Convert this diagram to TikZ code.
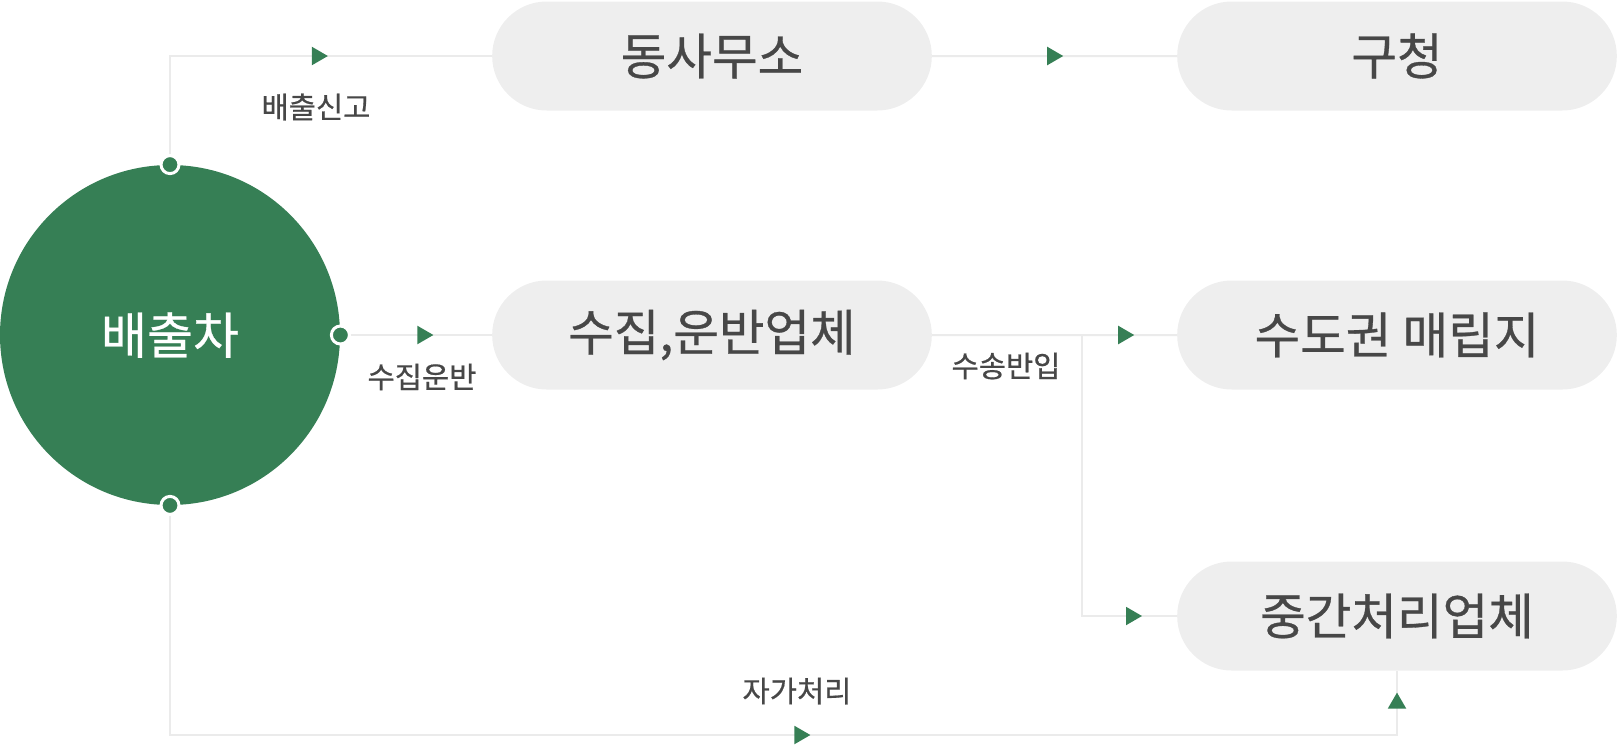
\documentclass[tikz,border=0pt]{standalone}
\usepackage{fontspec}
\setmainfont{Noto Sans CJK KR}
\newfontfamily\medfont[FakeBold=0.6]{Noto Sans CJK KR}
\usetikzlibrary{shapes.misc, arrows.meta, decorations.markings}

\definecolor{accent}{HTML}{367F55}
\definecolor{pillgray}{HTML}{EEEEEE}
\definecolor{linegray}{HTML}{EBEBEB}
\definecolor{textgray}{HTML}{474747}

\begin{document}
\begin{tikzpicture}[x=0.5pt, y=-0.5pt,
    tri/.tip={Triangle[length=8pt, width=9pt, color=accent]},
    pill/.style={rounded rectangle, fill=pillgray, text=textgray,
        minimum width=226.5pt, minimum height=54.5pt,
        font=\medfont\fontsize{24.8}{28}\selectfont},
    lbl/.style={text=textgray, inner sep=0pt, font=\medfont\fontsize{14.8}{17}\selectfont},
    dot/.style={circle, fill=accent, draw=white, line width=1.5pt,
        minimum size=9pt, inner sep=0pt},
    link/.style={draw=linegray, line width=1pt},
    tipat/.style={postaction={decorate, decoration={markings,
        mark=at position #1 with {\arrow{tri}}}}}]

    \useasboundingbox (0,0) rectangle (1617,745);

    \node[circle, fill=accent, text=white, minimum size=170pt, inner sep=0pt,
        font=\medfont\fontsize{25}{28}\selectfont] (baechul) at (170,335)
        {배출차};

    \node[pill] (dongsa) at (712,56)
        {동사무소};

    \node[pill] (gucheong) at (1397,56)
        {구청};

    \node[pill] (sujip) at (712,335)
        {수집,운반업체};

    \node[pill] (maerip) at (1397,335)
        {수도권 매립지};

    \node[pill] (junggan) at (1397,616)
        {중간처리업체};

    \node[dot] (topdot) at (baechul.north) {};
    \node[dot] (middot) at (baechul.east) {};
    \node[dot] (botdot) at (baechul.south) {};

    \coordinate (split) at (1082,335);
    \coordinate (corner) at (1397,735);

    \draw[link, tipat=128pt] (topdot) |- (dongsa.west);
    \draw[link, tipat=65.5pt] (dongsa) -- (gucheong);

    \draw[link, tipat=41.25pt] (middot) -- (sujip);
    \draw[link, tipat=101pt] (sujip) -- (maerip);
    \draw[link, tipat=170.5pt] (split) |- (junggan.west);

    \draw[link, tipat=429.75pt, tipat=744.25pt] (botdot) |- (corner) -- (junggan.south);

    \node[lbl] (singo) at (316,107) {배출신고};
    \node[lbl] (unban) at (422,377) {수집운반};
    \node[lbl] (banip) at (1006,366) {수송반입};
    \node[lbl] (jaga) at (797,691) {자가처리};

\end{tikzpicture}
\end{document}
